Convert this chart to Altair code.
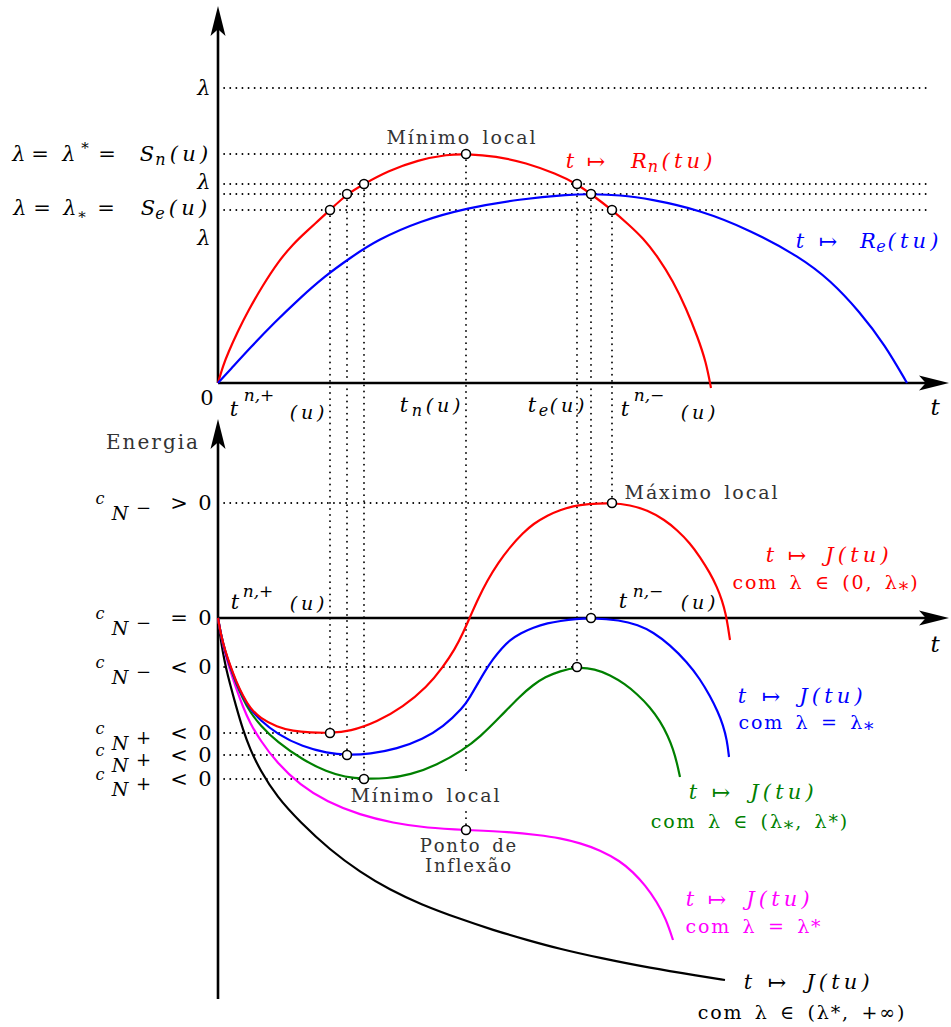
import altair as alt
import pandas as pd

HAIR, THIN, EN = "\u200a", "\u2009", "\u2002"


def loose(s, gap=HAIR):
    """Spread the glyphs of a label a little, as in typeset math."""
    return gap.join(EN if ch == " " else ch for ch in s)


# ---------------------------------------------------------------------------
# Upper panel: fibering maps t -> R_n(tu) and t -> R_e(tu)
# ---------------------------------------------------------------------------
RN_T = [0.00, 0.05, 0.10, 0.20, 0.30, 0.45, 0.60, 0.75, 0.90, 1.00, 1.12, 1.29, 1.46, 1.70,
        2.00, 2.30, 2.48, 2.78, 3.08, 3.38, 3.59, 3.73, 3.94, 4.10, 4.25, 4.40, 4.55, 4.68,
        4.80, 4.88, 4.93]
RN_V = [0.00, 0.17, 0.30, 0.52, 0.72, 0.98, 1.21, 1.39, 1.53, 1.62, 1.73, 1.89, 1.99, 2.12,
        2.23, 2.286, 2.29, 2.268, 2.202, 2.093, 1.99, 1.89, 1.73, 1.59, 1.45, 1.26, 1.02, 0.75,
        0.45, 0.21, -0.05]

RE_T = [0.00, 0.12, 0.32, 0.57, 0.82, 1.07, 1.32, 1.59, 2.02, 2.49, 3.02, 3.52, 3.73, 4.02, 4.32,
        4.82, 5.32, 5.82, 6.12, 6.42, 6.67, 6.89]
RE_V = [0.00, 0.13, 0.35, 0.61, 0.85, 1.07, 1.25, 1.43, 1.62, 1.75, 1.84, 1.885, 1.89, 1.88, 1.84,
        1.73, 1.53, 1.26, 1.03, 0.71, 0.38, 0.00]

# ---------------------------------------------------------------------------
# Lower panel: energy t -> J(tu) for several ranges of lambda
# ---------------------------------------------------------------------------
JR_T = [0.00, 0.03, 0.07, 0.12, 0.18, 0.25, 0.32, 0.42, 0.59, 0.75, 0.92, 1.12, 1.32, 1.59, 1.85,
        2.09, 2.25, 2.37, 2.45, 2.52, 2.60, 2.69, 2.80, 2.92, 3.05, 3.15, 3.30, 3.42, 3.55, 3.69,
        3.94, 4.12, 4.29, 4.47, 4.59, 4.72, 4.82, 4.92, 4.99, 5.04, 5.08, 5.10, 5.12]
JR_V = [0.00, -0.17, -0.32, -0.47, -0.63, -0.78, -0.90, -1.00, -1.09, -1.13, -1.145, -1.15, -1.135,
        -1.04, -0.89, -0.69, -0.49, -0.31, -0.15, 0.01, 0.19, 0.37, 0.55, 0.71, 0.85, 0.94, 1.03,
        1.08, 1.12, 1.14, 1.15, 1.13, 1.08, 0.98, 0.88, 0.75, 0.61, 0.45, 0.31, 0.18, 0.03, -0.09,
        -0.22]

JB_T = [0.00, 0.03, 0.07, 0.12, 0.18, 0.25, 0.32, 0.42, 0.59, 0.85, 1.09, 1.29, 1.52, 1.79, 2.05,
        2.25, 2.45, 2.52, 2.59, 2.67, 2.75, 2.84, 2.92, 3.03, 3.15, 3.30, 3.42, 3.58, 3.73, 4.02,
        4.20, 4.35, 4.52, 4.69, 4.82, 4.92, 5.00, 5.05, 5.09, 5.11]
JB_V = [0.00, -0.17, -0.33, -0.48, -0.64, -0.79, -0.91, -1.02, -1.16, -1.29, -1.35, -1.37, -1.36,
        -1.31, -1.21, -1.09, -0.90, -0.79, -0.67, -0.53, -0.41, -0.30, -0.22, -0.15, -0.095, -0.05,
        -0.03, -0.01, 0.00, -0.02, -0.07, -0.14, -0.27, -0.44, -0.61, -0.78, -0.94, -1.07, -1.22,
        -1.39]

JG_T = [0.00, 0.03, 0.07, 0.12, 0.18, 0.25, 0.32, 0.42, 0.59, 0.85, 1.09, 1.27, 1.46, 1.69, 1.92,
        2.19, 2.45, 2.62, 2.82, 3.02, 3.15, 3.27, 3.42, 3.59, 3.77, 3.92, 4.07, 4.19, 4.32, 4.42,
        4.50, 4.55, 4.59, 4.62]
JG_V = [0.00, -0.17, -0.33, -0.49, -0.65, -0.81, -0.94, -1.07, -1.24, -1.42, -1.54, -1.59, -1.61,
        -1.605, -1.57, -1.47, -1.32, -1.19, -0.99, -0.78, -0.67, -0.59, -0.53, -0.49, -0.51, -0.57,
        -0.66, -0.76, -0.89, -1.03, -1.18, -1.31, -1.45, -1.59]

JM_T = [0.00, 0.03, 0.07, 0.12, 0.18, 0.25, 0.32, 0.42, 0.59, 0.82, 1.09, 1.42, 1.75, 2.09, 2.48,
        2.92, 3.20, 3.42, 3.62, 3.82, 4.02, 4.15, 4.27, 4.39, 4.48, 4.55]
JM_V = [0.00, -0.18, -0.35, -0.52, -0.70, -0.89, -1.05, -1.22, -1.45, -1.67, -1.84, -1.97, -2.05,
        -2.10, -2.12, -2.14, -2.17, -2.20, -2.25, -2.32, -2.43, -2.54, -2.67, -2.84, -3.01, -3.22]

JK_T = [0.00, 0.02, 0.05, 0.08, 0.12, 0.18, 0.25, 0.32, 0.42, 0.59, 0.82, 1.12, 1.42, 1.72, 2.02,
        2.42, 2.75, 3.09, 3.42, 3.82, 4.32, 4.82, 5.07]
JK_V = [0.00, -0.17, -0.35, -0.50, -0.66, -0.88, -1.12, -1.31, -1.52, -1.79, -2.04, -2.32, -2.54,
        -2.72, -2.86, -3.01, -3.12, -3.22, -3.31, -3.40, -3.50, -3.58, -3.62]

# Marked points (same t in both panels)
PT_T = [1.12, 1.29, 1.46, 2.48, 3.59, 3.73, 3.94]
PT_R = [1.73, 1.89, 1.99, 2.29, 1.99, 1.89, 1.73]
PT_J = [-1.15, -1.37, -1.61, -2.12, -0.49, 0.00, 1.15]

# Horizontal guide levels and where each guide stops
LAMBDA_LEVELS = [2.95, 2.29, 1.99, 1.89, 1.73]
LAMBDA_ENDS = [7.12, 2.48, 7.12, 7.12, 7.12]
C_LEVELS = [1.15, 0.00, -0.49, -1.15, -1.37, -1.61]
C_SIGNS = ["−", "−", "−", "+", "+", "+"]
C_RELS = [">", "=", "<", "<", "<", "<"]
C_ENDS = [3.94, None, 3.59, 1.12, 1.29, 1.46]

# The lower panel sits this far below the upper one (in R units)
SHIFT = -2.35
# vertical guide at t_n(u) is interrupted where the "Mínimo local" label sits
LABEL_GAP = (-1.55, -1.94)

RED, BLUE, GREEN, MAGENTA, BLACK, GREY = "#ff0000", "#0000ff", "#008000", "#ff00ff", "#000000", "#333333"

# ---------------------------------------------------------------------------
# Tables
# ---------------------------------------------------------------------------
curve_rows = []
for name, ts, vs, shift in [
    ("Rn", RN_T, RN_V, 0.0), ("Re", RE_T, RE_V, 0.0),
    ("Jk", JK_T, JK_V, SHIFT), ("Jm", JM_T, JM_V, SHIFT), ("Jg", JG_T, JG_V, SHIFT),
    ("Jb", JB_T, JB_V, SHIFT), ("Jr", JR_T, JR_V, SHIFT),
]:
    df = pd.DataFrame({"t": ts, "val": vs})
    df["v"] = df["val"] + shift
    df["series"] = name
    df["i"] = range(len(df))
    curve_rows.append(df)
curves = pd.concat(curve_rows, ignore_index=True)
SERIES = ["Rn", "Re", "Jk", "Jm", "Jg", "Jb", "Jr"]
SERIES_COLORS = [RED, BLUE, BLACK, MAGENTA, GREEN, BLUE, RED]

points = pd.DataFrame({
    "t": PT_T + PT_T,
    "v": PT_R + [j + SHIFT for j in PT_J],
})

guides = []
for lvl, end in zip(LAMBDA_LEVELS, LAMBDA_ENDS):
    guides.append({"t": 0.0, "t2": end, "v": lvl, "v2": lvl})
for lvl, end in zip(C_LEVELS, C_ENDS):
    if end is not None:
        guides.append({"t": 0.0, "t2": end, "v": lvl + SHIFT, "v2": lvl + SHIFT})
for t, r, j in zip(PT_T, PT_R, PT_J):
    lo = j + SHIFT
    if LABEL_GAP[1] > j:  # guide crosses the label: split it
        guides.append({"t": t, "t2": t, "v": r, "v2": LABEL_GAP[0] + SHIFT})
        guides.append({"t": t, "t2": t, "v": LABEL_GAP[1] + SHIFT, "v2": lo})
    else:
        guides.append({"t": t, "t2": t, "v": r, "v2": lo})
guides = pd.DataFrame(guides)

AX_END = 7.16
axes_lines = pd.DataFrame([
    {"t": 0.0, "t2": 0.0, "v": 0.0, "v2": 3.62},
    {"t": 0.0, "t2": AX_END, "v": 0.0, "v2": 0.0},
    {"t": 0.0, "t2": 0.0, "v": -3.81 + SHIFT, "v2": 1.84 + SHIFT},
    {"t": 0.0, "t2": AX_END, "v": SHIFT, "v2": SHIFT},
])
arrows_up = pd.DataFrame({"t": [0.0, 0.0], "v": [3.62, 1.84 + SHIFT]})
arrows_right = pd.DataFrame({"t": [AX_END, AX_END], "v": [0.0, SHIFT]})

# ---------------------------------------------------------------------------
# Text: math (italic) and roman pieces
# ---------------------------------------------------------------------------
U = loose("(u)", THIN)
TU = loose("(tu)", THIN)
JTU = loose("J(tu)", THIN)

math = [
    ("λ", -0.14, 2.94, 21, BLACK), ("λ", -0.14, 2.00, 21, BLACK), ("λ", -0.14, 1.44, 21, BLACK),
    ("λ", -1.99, 2.28, 21, BLACK), ("λ", -1.49, 2.28, 21, BLACK), ("S", -0.71, 2.28, 21, BLACK),
    ("n", -0.575, 2.23, 16, BLACK), (U, -0.29, 2.28, 21, BLACK),
    ("λ", -1.98, 1.74, 21, BLACK), ("λ", -1.48, 1.74, 21, BLACK), ("S", -0.70, 1.74, 21, BLACK),
    ("e", -0.58, 1.69, 16, BLACK), (U, -0.30, 1.74, 21, BLACK),
    ("t", 7.17, -0.25, 23, BLACK), ("t", 7.17, -0.25 + SHIFT - 0.02, 23, BLACK),
    ("t", 0.16, -0.27, 21, BLACK), ("n,+", 0.41, -0.13, 17, BLACK), (U, 0.89, -0.30, 19, BLACK),
    ("t", 1.86, -0.23, 21, BLACK), ("n", 1.99, -0.28, 16, BLACK), (U, 2.25, -0.23, 19, BLACK),
    ("t", 3.14, -0.23, 21, BLACK), ("e", 3.255, -0.28, 16, BLACK), (U, 3.49, -0.23, 19, BLACK),
    ("t", 4.07, -0.27, 21, BLACK), ("n,−", 4.31, -0.13, 17, BLACK), (U, 4.80, -0.30, 19, BLACK),
    ("t", 0.17, -2.20, 21, BLACK), ("n,+", 0.40, -2.09, 17, BLACK), (U, 0.89, -2.21, 19, BLACK),
    ("t", 4.05, -2.19, 21, BLACK), ("n,−", 4.30, -2.09, 17, BLACK), (U, 4.80, -2.20, 19, BLACK),
    ("t", 3.52, 2.21, 21, RED), ("R", 4.21, 2.21, 21, RED), ("n", 4.35, 2.16, 16, RED), (TU, 4.69, 2.21, 21, RED),
    ("t", 5.82, 1.41, 21, BLUE), ("R", 6.50, 1.41, 21, BLUE), ("e", 6.63, 1.36, 16, BLUE), (TU, 6.95, 1.41, 21, BLUE),
    ("t", 5.52, -1.73, 21, RED), (JTU, 6.39, -1.73, 21, RED),
    ("t", 5.24, -3.14, 21, BLUE), (JTU, 6.13, -3.14, 21, BLUE),
    ("t", 4.75, -4.10, 21, GREEN), (JTU, 5.64, -4.10, 21, GREEN),
    ("t", 4.72, -5.17, 21, MAGENTA), (JTU, 5.60, -5.17, 21, MAGENTA),
    ("t", 5.30, -6.00, 21, BLACK), (JTU, 6.20, -6.00, 21, BLACK),
]
roman = [
    ("=", -1.78, 2.28, 21, BLACK), ("*", -1.33, 2.35, 15, BLACK), ("=", -1.11, 2.28, 21, BLACK),
    ("=", -1.76, 1.74, 21, BLACK), ("⁎", -1.36, 1.70, 15, BLACK), ("=", -1.12, 1.74, 21, BLACK),
    ("0", -0.11, -0.16, 21, BLACK),
    ("↦", 3.78, 2.21, 22, RED), ("↦", 6.10, 1.41, 22, BLUE),
    ("↦", 5.79, -1.73, 22, RED), (loose("com λ ∈ (0, λ⁎)"), 6.07, -2.00, 19, RED),
    ("↦", 5.53, -3.14, 22, BLUE), (loose("com λ = λ⁎"), 5.88, -3.40, 19, BLUE),
    ("↦", 5.03, -4.10, 22, GREEN), (loose("com λ ∈ (λ⁎, λ*)"), 5.31, -4.39, 19, GREEN),
    ("↦", 4.99, -5.17, 22, MAGENTA), (loose("com λ = λ*"), 5.35, -5.44, 19, MAGENTA),
    ("↦", 5.59, -6.00, 22, BLACK), (loose("com λ ∈ (λ*, +∞)"), 5.83, -6.30, 19, BLACK),
    (loose("Mínimo local"), 2.43, 2.45, 19, GREY),
    (loose("Energia"), -0.66, -0.60, 20, GREY),
    (loose("Máximo local"), 4.83, -1.10, 19, GREY),
    (loose("Mínimo local"), 2.07, -4.13, 19, GREY),
    (loose("Ponto de"), 2.50, -4.635, 18, GREY),
    (loose("Inflexão"), 2.50, -4.835, 18, GREY),
]
# c labels of the energy levels
for lvl, sign, rel in zip(C_LEVELS, C_SIGNS, C_RELS):
    v = lvl + SHIFT
    math.append(("c", -1.18, v + 0.04, 16, BLACK))
    math.append(("N", -0.98, v - 0.11, 19, BLACK))
    roman.append((sign, -0.745, v - 0.06, 18, BLACK))
    roman.append((rel, -0.39, v - 0.01, 21, BLACK))
    roman.append(("0", -0.13, v - 0.01, 21, BLACK))

cols = ["text", "t", "v", "size", "color"]
math_df = pd.DataFrame(math, columns=cols)
roman_df = pd.DataFrame(roman, columns=cols)

# ---------------------------------------------------------------------------
# Encodings
# ---------------------------------------------------------------------------
XS = alt.Scale(domain=[-2.18, 7.33], nice=False, zero=False)
YS = alt.Scale(domain=[-6.44, 3.83], nice=False, zero=False)
X = alt.X("t:Q", scale=XS, axis=None)
Y = alt.Y("v:Q", scale=YS, axis=None)

dotted = alt.Chart(guides).mark_rule(
    color="black", strokeWidth=1.8, strokeDash=[0.1, 6.0], strokeCap="round"
).encode(x=X, x2="t2:Q", y=Y, y2="v2:Q")

axes_layer = alt.Chart(axes_lines).mark_rule(color="black", strokeWidth=2.6).encode(
    x=X, x2="t2:Q", y=Y, y2="v2:Q")

UP_PATH = "M0,-1 L0.5,1 L0,0.55 L-0.5,1 Z"
RIGHT_PATH = "M1,0 L-1,0.5 L-0.55,0 L-1,-0.5 Z"
arrow_up = alt.Chart(arrows_up).mark_point(
    shape=UP_PATH, filled=True, color="black", size=900, opacity=1, strokeWidth=0
).encode(x=X, y=Y)
arrow_right = alt.Chart(arrows_right).mark_point(
    shape=RIGHT_PATH, filled=True, color="black", size=900, opacity=1, strokeWidth=0
).encode(x=X, y=Y)

lines = alt.Chart(curves).mark_line(strokeWidth=2.2, interpolate="basis").encode(
    x=X, y=Y,
    color=alt.Color("series:N", scale=alt.Scale(domain=SERIES, range=SERIES_COLORS), legend=None),
    order="i:Q",
)

dots = alt.Chart(points).mark_point(
    shape="circle", filled=True, fill="white", stroke="black", strokeWidth=1.6, size=80, opacity=1
).encode(x=X, y=Y)

math_text = alt.Chart(math_df).mark_text(
    font="DejaVu Serif", fontStyle="italic", baseline="middle", align="center"
).encode(x=X, y=Y, text="text:N", size=alt.Size("size:Q", scale=None),
         color=alt.Color("color:N", scale=None))
roman_text = alt.Chart(roman_df).mark_text(
    font="DejaVu Serif", baseline="middle", align="center"
).encode(x=X, y=Y, text="text:N", size=alt.Size("size:Q", scale=None),
         color=alt.Color("color:N", scale=None))

chart = alt.layer(
    dotted, axes_layer, arrow_up, arrow_right, lines, dots, math_text, roman_text
).properties(
    width=951, height=1027, padding=0, autosize="none", background="white"
).configure_view(stroke=None)

chart.save("out.html", embed_options={"renderer": "svg", "actions": False})
